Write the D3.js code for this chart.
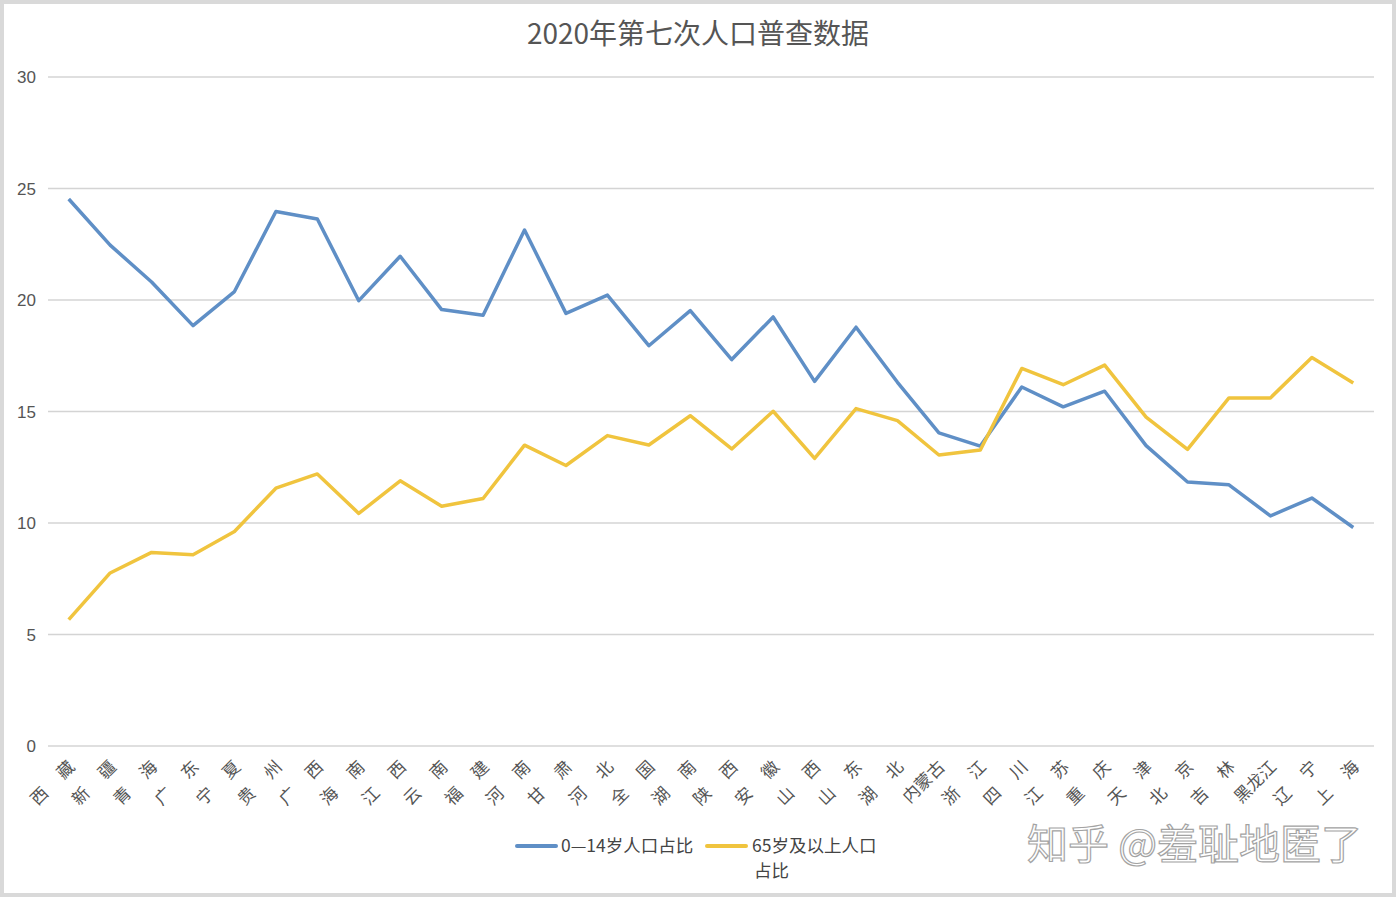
<!DOCTYPE html>
<html><head><meta charset="utf-8">
<script src="https://cdn.jsdelivr.net/npm/d3@7"></script>
<style>body{margin:0;background:#fff;}svg{display:block;font-family:"Noto Sans CJK SC","Liberation Sans",sans-serif;}</style>
</head><body>
<script>
const categories = ["西藏","新疆","青海","广东","宁夏","贵州","广西","海南","江西","云南","福建","河南","甘肃","河北","全国","湖南","陕西","安徽","山西","山东","湖北","内蒙古","浙江","四川","江苏","重庆","天津","北京","吉林","黑龙江","辽宁","上海"];
const young = [24.53,22.46,20.81,18.85,20.38,23.97,23.63,19.97,21.96,19.57,19.32,23.14,19.40,20.22,17.95,19.52,17.33,19.24,16.35,18.78,16.31,14.04,13.45,16.10,15.21,15.91,13.47,11.84,11.71,10.32,11.12,9.80];
const old = [5.67,7.76,8.68,8.58,9.62,11.56,12.20,10.43,11.89,10.75,11.10,13.49,12.58,13.92,13.50,14.81,13.32,15.01,12.90,15.13,14.59,13.05,13.27,16.93,16.20,17.08,14.75,13.30,15.61,15.61,17.42,16.28];
const yTicks = [0,5,10,15,20,25,30];
const seriesNames = ["0—14岁人口占比","65岁及以上人口占比"];
const title = "2020年第七次人口普查数据";
const watermark = "知乎 @羞耻地匿了";

const W = 1398, H = 898;
const svg = d3.select("body").append("svg").attr("width", W).attr("height", H);
svg.append("rect").attr("x",2).attr("y",2).attr("width",W-6).attr("height",H-5)
  .attr("fill","#fff").attr("stroke","#d9d9d9").attr("stroke-width",4);

const x = d3.scaleBand().domain(categories).range([48, 1374]);
const y = d3.scaleLinear().domain([0, 30]).range([746, 77]);

svg.append("text").attr("x", 698).attr("y", 44).attr("text-anchor","middle")
  .attr("font-size", 28).attr("fill","#555").text(title);

const grid = svg.append("g");
grid.selectAll("line").data(yTicks).join("line")
  .attr("x1", 48).attr("x2", 1374)
  .attr("y1", d => y(d)).attr("y2", d => y(d))
  .attr("stroke", "#d4d4d4").attr("stroke-width", 1.5);
grid.selectAll("text").data(yTicks).join("text")
  .attr("x", 36).attr("y", d => y(d) + 6).attr("text-anchor","end")
  .attr("font-size", 17).attr("fill","#555").attr("font-family","Liberation Sans, sans-serif").text(d => d);

// x labels
const xl = svg.append("g");
categories.forEach(c => {
  const cx = x(c) + x.bandwidth()/2;
  const t = xl.append("text").attr("transform", `translate(${cx+7},${768}) rotate(-45)`)
    .attr("text-anchor","end").attr("font-size", 17).attr("fill","#555");
  if (c.length === 2) {
    t.append("tspan").text(c[0]);
    t.append("tspan").attr("dx", 20).text(c[1]);
  } else {
    t.text(c);
  }
});

const line = d3.line().x((d,i) => x(categories[i]) + x.bandwidth()/2).y(d => y(d));
const colors = ["#5f8fc6", "#f0c43e"];
[young, old].forEach((s, k) => {
  svg.append("path").datum(s).attr("d", line).attr("fill","none")
    .attr("stroke", colors[k]).attr("stroke-width", 3.5).attr("stroke-linejoin","round");
});

// legend
const lg = svg.append("g");
lg.append("line").attr("x1",517).attr("x2",556).attr("y1",846).attr("y2",846).attr("stroke",colors[0]).attr("stroke-width",4).attr("stroke-linecap","round");
lg.append("text").attr("x",561).attr("y",852).attr("font-size",17.5).attr("fill","#444").text(seriesNames[0]);
lg.append("line").attr("x1",707).attr("x2",746).attr("y1",846).attr("y2",846).attr("stroke",colors[1]).attr("stroke-width",4).attr("stroke-linecap","round");
lg.append("text").attr("x",752).attr("y",852).attr("font-size",17.5).attr("fill","#444").text(seriesNames[1].slice(0,8));
lg.append("text").attr("x",754).attr("y",877).attr("font-size",17.5).attr("fill","#444").text(seriesNames[1].slice(8));

// watermark
svg.append("text").attr("x", 1362).attr("y", 859).attr("text-anchor","end")
  .attr("font-size", 41).attr("fill","#fff").attr("stroke","#9a9a9a").attr("stroke-width",1.2)
  .attr("opacity",0.9).text(watermark);
</script>
</body></html>
